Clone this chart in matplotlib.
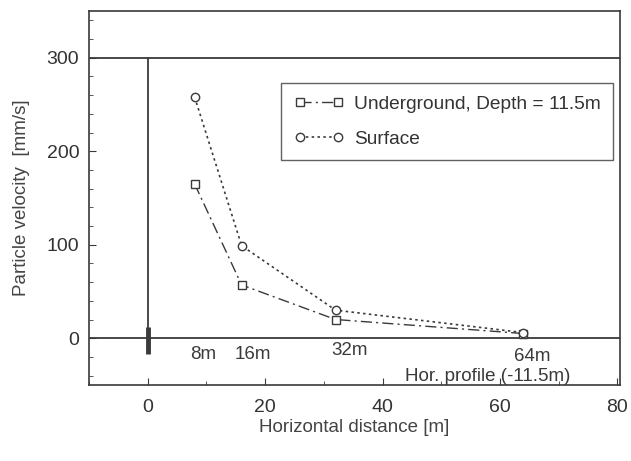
import numpy as np
import matplotlib.pyplot as plt
from matplotlib.ticker import MultipleLocator

# distances along the horizontal profile [m]
distance = [8, 16, 32, 64]
underground = [165, 57, 20, 5]
surface = [258, 99, 30, 6]

dist_labels = ["8m", "16m", "32m", "64m"]
label_pos = [(9.4, -17), (17.9, -17), (34.4, -13), (65.5, -20)]

plt.rcParams['font.family'] = ['Liberation Sans', 'DejaVu Sans']
ink = "#3a3a3a"

fig = plt.figure(figsize=(6.31, 4.61), dpi=100)
ax = fig.add_axes([0.141, 0.165, 0.842, 0.811])

# reference lines of the sketch
ax.axhline(300, color=ink, lw=1.3)
ax.axhline(0, color=ink, lw=1.3)
ax.plot([0, 0], [0, 300], color=ink, lw=1.3)
ax.plot([0, 0], [-17, 12], color=ink, lw=3.5, solid_capstyle="butt")

ax.plot(distance, underground, color=ink, lw=1.0, ls=(0, (8, 3, 1.5, 3)),
        marker="s", ms=6, mfc="white", mec=ink, mew=1.0,
        label="Underground, Depth = 11.5m")
ax.plot(distance, surface, color=ink, lw=1.2, ls=(0, (1.5, 2)),
        marker="o", ms=6, mfc="white", mec=ink, mew=1.0,
        label="Surface")

for lab, (x, y) in zip(dist_labels, label_pos):
    ax.text(x, y, lab, ha="center", va="center", fontsize=13.5, color=ink)
ax.text(57.9, -41, "Hor. profile (-11.5m)", ha="center", va="center",
        fontsize=13.5, color=ink)

ax.set_xlim(-10, 80.5)
ax.set_ylim(-50, 350)
ax.set_xticks([0, 20, 40, 60, 80])
ax.set_yticks([0, 100, 200, 300])
ax.xaxis.set_minor_locator(MultipleLocator(10))
ax.yaxis.set_minor_locator(MultipleLocator(20))
ax.tick_params(which="both", direction="in", colors=ink, labelsize=14,
               labelcolor="#333333")
ax.tick_params(which="major", length=5, pad=10)
ax.tick_params(axis="y", which="major", pad=7)
ax.tick_params(which="minor", length=3)
for s in ax.spines.values():
    s.set_color(ink)
    s.set_linewidth(1.2)

ax.set_xlabel("Horizontal distance [m]", fontsize=13.5, color="#444444", labelpad=2)
ax.set_ylabel("Particle velocity  [mm/s]", fontsize=13.5, color="#444444", labelpad=12)

leg = ax.legend(loc="upper left", bbox_to_anchor=(0.362, 0.594, 0.625, 0.213),
                mode="expand", borderaxespad=0, fontsize=13.8, frameon=True,
                fancybox=False, edgecolor=ink, handlelength=2.6, borderpad=0.65,
                labelspacing=0.9, handletextpad=0.55, numpoints=2)
leg.get_frame().set_linewidth(1.0)
for t in leg.get_texts():
    t.set_color("#333333")

fig.savefig("out.png", dpi=100)
